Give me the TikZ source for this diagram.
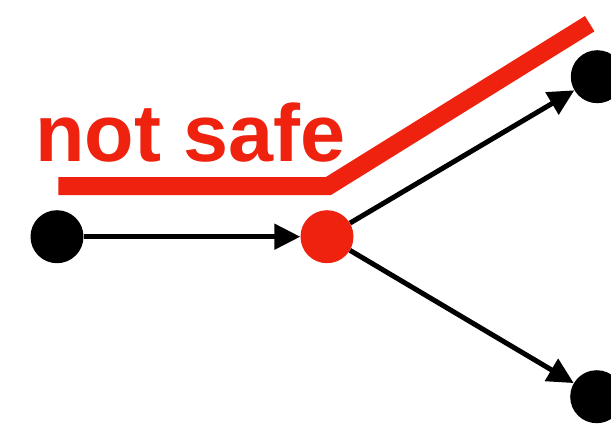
\documentclass[tikz,border=0pt]{standalone}
\usepackage{fontspec}
\setmainfont{Liberation Sans}
\usetikzlibrary{arrows.meta}
\definecolor{alarmred}{RGB}{238,34,14}
\begin{document}
\begin{tikzpicture}[x=1pt,y=-1pt,
  dot/.style={circle,fill=black,minimum size=53pt,inner sep=0pt,draw=none},
  reddot/.style={dot,fill=alarmred},
  flow/.style={line width=5pt,-{Triangle[length=26pt,width=25pt]}},
  barrier/.style={alarmred,line width=18pt,line cap=butt,line join=miter},
  warn/.style={anchor=base west,inner sep=0pt,text=alarmred,font=\bfseries\fontsize{81}{81}\selectfont}]
\useasboundingbox (0,0) rectangle (611,429);
\clip (0,0) rectangle (611,429);
\node[dot] (src) at (57,236.7) {};
\node[reddot] (mid) at (327,236.7) {};
\node[dot] (up) at (597.3,76.7) {};
\node[dot] (down) at (596.7,396.7) {};
\draw[flow] (src) -- (mid);
\draw[flow] (mid) -- (up);
\draw[flow] (mid) -- (down);
\coordinate (b1) at (58.3,186);
\coordinate (b2) at (328.4,186);
\coordinate (b3) at (589.7,23.7);
\draw[barrier] (b1) -- (b2) -- (b3);
\node[warn] (label) at (35.2,161.7) {not safe};
\end{tikzpicture}
\end{document}
